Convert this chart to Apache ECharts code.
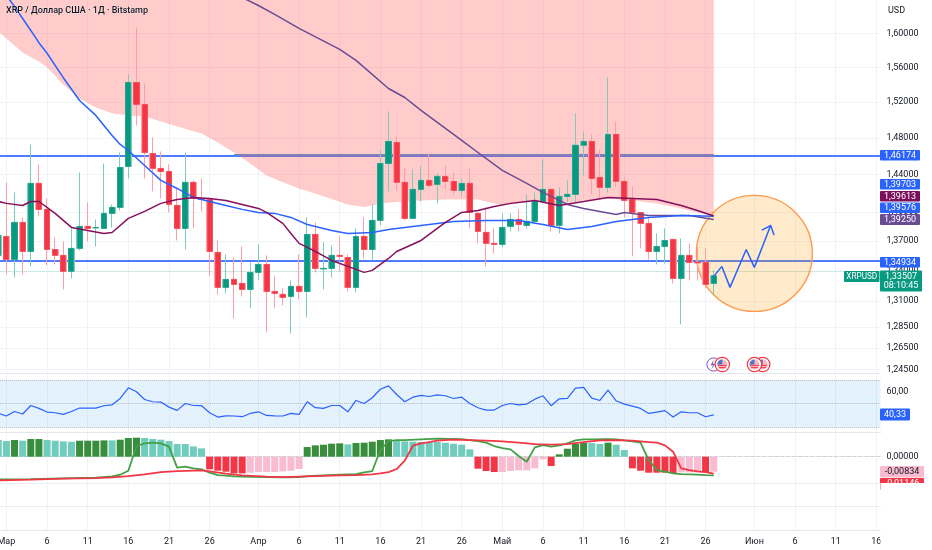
<!DOCTYPE html>
<html><head><meta charset="utf-8">
<style>html,body{margin:0;padding:0;background:#fff}#c{width:932px;height:550px}</style>
<script src="https://cdn.jsdelivr.net/npm/echarts@6/dist/echarts.min.js"></script>
</head><body><div id="c"></div>
<script>
const categories=['28','Мар','2','3','4','5','6','7','8','9','10','11','12','13','14','15','16','17','18','19','20','21','22','23','24','25','26','27','28','29','30','31','Апр','2','3','4','5','6','7','8','9','10','11','12','13','14','15','16','17','18','19','20','21','22','23','24','25','26','27','28','29','30','Май','2','3','4','5','6','7','8','9','10','11','12','13','14','15','16','17','18','19','20','21','22','23','24','25','26','27','28','29','30','31','Июн','2','3','4','5','6','7','8','9','10','11','12','13','14','15','16'];
const tickDays=['Мар','Апр','Май','Июн','6','11','16','21','26'];
const priceTicks=[1.6,1.56,1.52,1.48,1.44,1.40,1.37,1.34,1.31,1.285,1.265,1.245];

const opens=[1.3556,1.3749,1.3515,1.3894,1.3596,1.4305,1.4030,1.3616,1.3556,1.3395,1.3627,1.3853,1.3837,1.3832,1.3988,1.4051,1.4487,1.5425,1.5174,1.4628,1.4466,1.4433,1.4072,1.3832,1.4316,1.4145,1.4135,1.3586,1.3236,1.3315,1.3275,1.3216,1.3385,1.3465,1.3196,1.3167,1.3147,1.3246,1.3196,1.3770,1.3420,1.3425,1.3556,1.3535,1.3236,1.3749,1.3616,1.3915,1.4519,1.4749,1.4316,1.3936,1.4241,1.4337,1.4294,1.4380,1.4326,1.4230,1.4305,1.3988,1.3791,1.3678,1.3668,1.3853,1.3925,1.3863,1.3905,1.4114,1.4241,1.3863,1.4166,1.4188,1.4718,1.4760,1.4369,1.4262,1.4838,1.4326,1.4135,1.3998,1.3884,1.3596,1.3647,1.3718,1.3325,1.3556,1.3485,1.3485,1.3275];
const closes=[1.3760,1.3515,1.3894,1.3596,1.4305,1.4030,1.3616,1.3556,1.3395,1.3627,1.3853,1.3832,1.3842,1.3988,1.4051,1.4476,1.5425,1.5174,1.4639,1.4466,1.4433,1.4082,1.3832,1.4316,1.4145,1.4135,1.3596,1.3236,1.3315,1.3265,1.3216,1.3385,1.3465,1.3196,1.3177,1.3137,1.3246,1.3196,1.3770,1.3425,1.3425,1.3556,1.3546,1.3236,1.3749,1.3616,1.3915,1.4519,1.4760,1.4316,1.3936,1.4241,1.4337,1.4284,1.4380,1.4326,1.4230,1.4305,1.3998,1.3801,1.3678,1.3668,1.3842,1.3925,1.3873,1.3905,1.4114,1.4241,1.3863,1.4166,1.4188,1.4718,1.4760,1.4358,1.4262,1.4838,1.4326,1.4124,1.3998,1.3884,1.3596,1.3647,1.3708,1.3325,1.3556,1.3485,1.3480,1.3265,1.33507];
const lows=[1.3495,1.3365,1.3335,1.3365,1.3445,1.3957,1.3455,1.3465,1.3216,1.3325,1.3606,1.3698,1.3647,1.3832,1.3842,1.4019,1.4358,1.4938,1.4358,1.4219,1.4145,1.3998,1.3708,1.3616,1.3832,1.4009,1.3345,1.3167,1.3177,1.2932,1.3147,1.3030,1.3305,1.2797,1.3030,1.3059,1.2788,1.3118,1.2942,1.3385,1.3216,1.3335,1.3395,1.3196,1.3186,1.3525,1.3505,1.3863,1.4219,1.4230,1.3915,1.3936,1.4114,1.4262,1.4093,1.4241,1.4188,1.4177,1.3832,1.3678,1.3445,1.3576,1.3637,1.3801,1.3801,1.3832,1.3884,1.4093,1.3801,1.3780,1.4103,1.4103,1.4390,1.4188,1.4135,1.4209,1.4262,1.3946,1.3546,1.3627,1.3515,1.3465,1.3475,1.3275,1.2875,1.3305,1.3305,1.3226,1.3157];
const highs=[1.3915,1.4316,1.4209,1.3946,1.4727,1.4509,1.4145,1.3739,1.3698,1.3832,1.4423,1.4103,1.3925,1.4519,1.4082,1.4639,1.5518,1.6072,1.5413,1.4804,1.4650,1.4509,1.4252,1.4639,1.4337,1.4358,1.4145,1.3708,1.3566,1.3535,1.3647,1.3485,1.3668,1.3556,1.3345,1.3226,1.3305,1.3566,1.3946,1.3894,1.3688,1.3657,1.3749,1.3566,1.3832,1.3946,1.4082,1.4661,1.5095,1.4815,1.4466,1.4455,1.4487,1.4628,1.4412,1.4498,1.4423,1.4358,1.4466,1.4009,1.4051,1.3832,1.3988,1.3988,1.4030,1.4188,1.4209,1.4563,1.4241,1.4262,1.4337,1.5073,1.4871,1.4838,1.4672,1.5483,1.4983,1.4369,1.4273,1.3998,1.3946,1.3780,1.3832,1.3729,1.3729,1.3678,1.3637,1.3627,1.3405];

const maBlue=[[0,1.671],[1,1.646],[2,1.6326],[3,1.618],[4,1.6036],[5,1.589],[6,1.5765],[8,1.548],[10,1.5219],[12,1.505],[14,1.4826],[15,1.4727],[16,1.4661],[18,1.4498],[20,1.4337],[22,1.4251],[24,1.4156],[26,1.4113],[28,1.4071],[30,1.403],[32,1.3998],[34,1.3988],[36,1.3946],[38,1.3873],[41,1.3811],[43,1.378],[46,1.379],[48,1.3821],[52,1.3863],[56,1.3904],[60,1.3915],[64,1.3915],[67,1.3873],[70,1.3821],[73,1.3852],[76,1.3904],[80,1.3946],[84,1.3967],[88,1.39576]];
const maBurgundy=[[0,1.4113],[1,1.4093],[3,1.4071],[4,1.4113],[5,1.4113],[7,1.3988],[9,1.3842],[11,1.3811],[13,1.378],[14,1.379],[16,1.3936],[18,1.4009],[20,1.4093],[22,1.4134],[24,1.4156],[26,1.4145],[28,1.4124],[30,1.4082],[32,1.404],[33,1.3998],[35,1.3884],[36,1.378],[37,1.3678],[39,1.3596],[41,1.3505],[43,1.3445],[45,1.3385],[46,1.3405],[48,1.3525],[49,1.3596],[52,1.3708],[55,1.3894],[57,1.3998],[59,1.4019],[61,1.4061],[63,1.4093],[66,1.4124],[69,1.4071],[72,1.4113],[75,1.4156],[81,1.4134],[84,1.4071],[86,1.4019],[88,1.39613]];
const maPurple=[[30,1.6436],[32,1.6338],[34,1.6229],[37,1.606],[42,1.5811],[44,1.5681],[48,1.5356],[50,1.5253],[52,1.5106],[55,1.4904],[57,1.4771],[59,1.4639],[62,1.4444],[65,1.4305],[67,1.4209],[70,1.4082],[72,1.404],[76,1.3977],[77,1.3998],[80,1.3967],[85,1.3967],[88,1.3925]];
const cloudEdge=[[0,1.6024],[2,1.5858],[3,1.5775],[5,1.5669],[6,1.56],[8,1.5402],[10,1.5242],[12,1.514],[14,1.5073],[16,1.505],[18,1.5039],[20,1.4983],[22,1.4927],[25,1.4849],[27,1.4749],[29,1.4639],[31,1.452],[33,1.439],[35,1.4316],[37,1.4251],[40,1.4167],[43,1.4082],[45,1.4054],[48,1.4103],[52,1.4124],[55,1.4134],[59,1.4134],[62,1.4071],[66,1.4113],[69,1.4082],[72,1.4124],[75,1.4145],[78,1.4124],[81,1.4093],[84,1.404],[86,1.3998],[88,1.3958]];
const levelHigh=1.46174, levelLow=1.34934, lastPrice=1.33507;
const cloudSpan=[29,88];
const forecastPath=[[88,1.3345],[89,1.3445],[90,1.3236],[92,1.3616],[93,1.3435],[95,1.3862]];
const circleCenter=[93,1.3576], circleTopPrice=1.4177;

const rsi=[41.6,39.4,43.3,41.1,48.4,45.9,42.8,42.2,40.8,43.3,46.2,46.2,46.2,48.2,49,54.4,63.5,60.1,53.5,51.6,51.3,47,44.2,50.1,48.4,48.2,42.2,38.5,39.6,39.4,38.8,41.6,43,39.9,39.6,39.4,41.6,40.8,51.6,46.5,45.9,48.4,48.4,43,52.7,50.1,55,62.3,65.2,57.8,51.6,55.5,57,56.1,57.5,56.7,54.4,55.5,50.1,46.5,44.5,44.5,48.4,50.1,49,49.6,53.8,56.7,48.2,54.1,54.4,63.2,63.8,54.7,52.7,61.5,52.4,49.6,47.9,45.9,41.6,42.8,44,38.5,43,42.2,42.2,38.8,40.33];

const hist=[.00926,.00870,.00926,.00889,.00981,.00981,.00926,.00889,.00852,.00833,.00889,.00889,.00889,.00907,.00907,.00944,.01037,.01056,.01037,.00981,.00944,.00870,.00704,.00704,.00574,.00463,-.00704,-.00778,-.00833,-.00926,-.00926,-.00889,-.00852,-.00852,-.00852,-.00815,-.00778,-.00685,.00537,.00630,.00667,.00722,.00741,.00685,.00759,.00778,.00833,.00926,.00963,.00889,.00852,.00833,.00815,.00796,.00815,.00778,.00722,.00667,.00407,-.00667,-.00796,-.00852,-.00852,-.00796,-.00759,-.00759,-.00648,-.00148,-.00519,.00130,.00444,.00704,.00759,.00759,.00704,.00778,.00667,.00370,-.00648,-.00778,-.00889,-.00889,-.00889,-.00907,-.00870,-.00870,-.00870,-.00870,-.00834];
const histKinds=('ppdpddpppp'+'ddddpdddpp'+'pppppprrrr'+'rkkkkkkkdd'+'dddpdddddp'+'pppppppppr'+'rrkkkkkkrd'+'dddppdpprr'+'rrrrkkkrk').split('');
const macdLine=[[0,-.01259],[4,-.01241],[8,-.01204],[12,-.01167],[14,-.01093],[15,-.01],[16,-.00778],[17,.00593],[18,.00741],[19,.00778],[20,.00741],[21,.00556],[22,-.00611],[23,-.00556],[24,-.00648],[25,-.00704],[26,-.00889],[27,-.01019],[28,-.01056],[29,-.01093],[30,-.01111],[33,-.0113],[35,-.01148],[37,-.0113],[38,-.01074],[42,-.01],[44,-.00963],[45,-.0087],[46,-.00796],[47,.0037],[48,.0087],[49,.00926],[50,.00926],[52,.00963],[54,.01],[57,.00981],[58,.00926],[59,.0087],[60,.00778],[61,.00593],[62,.00481],[63,.00407],[64,.00037],[65,-.00278],[66,.00519],[67,.00648],[68,.00556],[69,.0063],[70,.00741],[71,.00907],[72,.00963],[73,.00963],[75,.00981],[76,.00963],[77,.00907],[78,.00852],[79,.00778],[80,-.00185],[81,-.00741],[82,-.00833],[83,-.00926],[84,-.00963],[85,-.00981],[86,-.01],[87,-.01019],[88,-.01037]];
const signalLine=[[0,-.01315],[4,-.01278],[8,-.01222],[12,-.01185],[14,-.01148],[16,-.01074],[18,-.00981],[20,-.00852],[22,-.00796],[25,-.00759],[26,-.00815],[28,-.00944],[30,-.01037],[33,-.01111],[35,-.0113],[38,-.01093],[42,-.01037],[44,-.01019],[46,-.00981],[47,-.00926],[48,-.00852],[49,-.00685],[50,-.00222],[51,.00611],[52,.00741],[53,.00815],[54,.00889],[56,.00944],[58,.00926],[60,.00889],[62,.00852],[64,.00778],[66,.00704],[68,.00667],[70,.00704],[72,.00815],[74,.00907],[76,.00926],[78,.00889],[80,.00815],[81,.00778],[82,.0063],[83,.00278],[84,-.00648],[85,-.00741],[86,-.00815],[87,-.00852],[88,-.00944]];

const FONT='Roboto, sans-serif', INK='#131722', GRID='#F0F3FA';
const histColor={d:'#388E3C',p:'#70CCBD',r:'#F23645',k:'#F8BBD0'};
const fmt=d=>v=>Number(v).toFixed(d).replace('.',',');
const showTick=(i,v)=>tickDays.includes(v);
const pane=(idx,top,height)=>({left:-5.8,width:886.2,top,height,show:false,outerBoundsMode:'none'});
const xAx=(idx,labels)=>({type:'category',gridIndex:idx,data:categories,boundaryGap:true,
  axisLine:{show:true,lineStyle:{color:'#E4E7EE',width:1}},axisTick:{show:false,alignWithLabel:true},
  splitLine:{show:true,alignWithLabel:true,interval:showTick,lineStyle:{color:GRID,width:1}},
  axisLabel:labels?{show:true,interval:showTick,color:INK,fontFamily:FONT,fontSize:9,margin:7,hideOverlap:false,showMinLabel:true,showMaxLabel:true}:{show:false}});
const bodyData=opens.map((o,i)=>[o,closes[i],Math.min(o,closes[i]),Math.max(o,closes[i])]);
const wickData=opens.map((o,i)=>[o,closes[i],lows[i],highs[i]]);
const maSeries=(data,color,name)=>({type:'line',name,xAxisIndex:0,yAxisIndex:0,data,showSymbol:false,symbol:'none',z:6,lineStyle:{color,width:1.5},silent:true});

function tag(x,y,w,h,bg,text,color,size){
  return [{type:'rect',z:100,shape:{x,y,width:w,height:h,r:1},style:{fill:bg}},
    {type:'text',z:101,x:x+w/2,y:y+h/2,style:{text,fill:color||'#fff',font:(size||9)+'px '+FONT,align:'center',verticalAlign:'middle'}}];
}
function flag(cx,cy,z){
  return [{type:'circle',z,shape:{cx,cy,r:7.2},style:{fill:'#fff',stroke:'#F23645',lineWidth:1.2}},
   {type:'circle',z:z+1,shape:{cx,cy,r:5},style:{fill:'#F7B7BC'}},
   {type:'sector',z:z+2,shape:{cx,cy,r:5,startAngle:Math.PI,endAngle:Math.PI*1.5},style:{fill:'#4F74C9'}},
   {type:'rect',z:z+2,shape:{x:cx-4.4,y:cy+.4,width:8.8,height:1},style:{fill:'#F23645'}},
   {type:'rect',z:z+2,shape:{x:cx-3.4,y:cy+2.6,width:6.8,height:1},style:{fill:'#F23645'}}];
}
const graphicEls=[
  {type:'text',z:50,x:6,y:11,style:{text:'XRP / Доллар США · 1Д · Bitstamp',fill:INK,font:'500 9px '+FONT,verticalAlign:'middle',stroke:'rgba(255,255,255,.35)',lineWidth:1}},
  {type:'text',z:50,x:888,y:11,style:{text:'USD',fill:INK,font:'9px '+FONT,verticalAlign:'middle'}},
  {type:'circle',z:19,shape:{cx:713.5,cy:364.5,r:6.6},style:{fill:'#fff',stroke:'#7E57C2',lineWidth:1}},
  {type:'polygon',z:19,shape:{points:[[713.5,360],[710.5,365.5],[713,365],[711.5,369],[715.5,363.5],[713,364]]},style:{fill:'#7E57C2'}},
  ...flag(722.3,364.5,20),...flag(762.7,364.5,24),...flag(754.5,364.5,28),
  ...tag(880,150,40,10.5,'#2962FF','1,46174'),
  ...tag(880,179,40,10.5,'#2962FF','1,39703'),
  ...tag(880,191,40,10.5,'#7B0F5C','1,39613'),
  ...tag(880,202.5,40,10.5,'#2962FF','1,39576'),
  ...tag(880,214,40,11,'#6A4C93','1,39250'),
  ...tag(880,257,40,10.5,'#2962FF','1,34934'),
  ...tag(844,271,35.5,11,'#089981','XRPUSD','#fff',8.2),
  ...tag(880,270.5,42,21,'#089981','1,33507\n08:10:45'),
  ...tag(880,408.5,30,12,'#2962FF','40,33'),
  ...tag(880,466,44,11.5,'#F8BBD0','-0,00834',INK),
  ...tag(880,478,44,12,'#F23645','-0,01146'),
  {type:'rect',z:110,shape:{x:880.4,y:483,width:52,height:20},style:{fill:'#fff'}},
  {type:'rect',z:110,shape:{x:880.4,y:531,width:52,height:19},style:{fill:'#fff'}}
];

const option={animation:false,backgroundColor:'#fff',
 grid:[pane(0,0,373),pane(1,373,59),pane(2,432,51),pane(3,483,47)],
 xAxis:[xAx(0),xAx(1),xAx(2),xAx(3,true)],
 yAxis:[
  {type:'log',gridIndex:0,position:'right',min:1.2416,max:1.6405,axisLine:{show:false},axisTick:{show:false,customValues:priceTicks},
   splitLine:{show:true,lineStyle:{color:GRID}},axisLabel:{show:true,customValues:priceTicks,color:INK,fontFamily:FONT,fontSize:9,margin:6,formatter:fmt(5)}},
  {type:'value',gridIndex:1,position:'right',min:25.74,max:76.17,axisLine:{show:false},axisTick:{show:false},splitLine:{show:false},
   axisLabel:{show:true,customValues:[60],color:INK,fontFamily:FONT,fontSize:9,margin:6,formatter:fmt(2)}},
  {type:'value',gridIndex:2,position:'right',min:-.01461,max:.01372,axisLine:{show:false},axisTick:{show:false},splitLine:{show:false},
   axisLabel:{show:true,customValues:[0],color:INK,fontFamily:FONT,fontSize:9,margin:6,formatter:fmt(5)}},
  {type:'value',gridIndex:3,position:'right',min:0,max:2,interval:1,axisLine:{show:false},axisTick:{show:false},splitLine:{show:true,lineStyle:{color:'#E9ECF2'}},axisLabel:{show:false}}
 ],
 graphic:{elements:graphicEls},
 series:[
  {type:'line',name:'levels',xAxisIndex:0,yAxisIndex:0,data:[],z:1,markLine:{silent:true,z:1,symbol:'none',label:{show:false},
    data:[{yAxis:levelHigh,lineStyle:{color:'#4F7CFF',width:2,type:'solid'}},{yAxis:levelLow,lineStyle:{color:'#4F7CFF',width:2,type:'solid'}},{yAxis:lastPrice,lineStyle:{color:'#A5DDD2',width:1,type:'dotted'}},
      [{xAxis:cloudSpan[0],yAxis:levelHigh,lineStyle:{color:'#4892E9',width:2,type:'solid'}},{xAxis:cloudSpan[1],yAxis:levelHigh}]]}},
  {type:'line',name:'cloud',xAxisIndex:0,yAxisIndex:0,data:cloudEdge,symbol:'none',z:2,lineStyle:{width:0,opacity:0},areaStyle:{origin:'end',color:'rgba(255,82,82,.3)',opacity:1},silent:true},
  {type:'custom',name:'circle',xAxisIndex:0,yAxisIndex:0,z:3,data:[circleCenter],clip:false,silent:true,
   renderItem:(p,api)=>{const c=api.coord(circleCenter),t=api.coord([circleCenter[0],circleTopPrice]);
     return {type:'circle',shape:{cx:c[0],cy:c[1],r:c[1]-t[1]},style:{fill:'rgba(255,152,0,.2)',stroke:'#FF9A4D',lineWidth:1.4}};}},
  {type:'candlestick',name:'wicks',xAxisIndex:0,yAxisIndex:0,data:wickData,barWidth:6.4,z:4,silent:true,
   itemStyle:{color:'#7ECBBC',color0:'#FF9EA6',borderColor:'#7ECBBC',borderColor0:'#FF9EA6',borderWidth:1}},
  {type:'candlestick',name:'bodies',xAxisIndex:0,yAxisIndex:0,data:bodyData,barWidth:5.6,z:5,silent:true,
   itemStyle:{color:'#089981',color0:'#F23645',borderColor:'#089981',borderColor0:'#F23645',borderWidth:.5}},
  maSeries(maPurple,'#6A4C93','maPurple'),
  maSeries(maBlue,'#2962FF','maBlue'),
  maSeries(maBurgundy,'#86105E','maBurgundy'),
  {type:'line',name:'forecast',xAxisIndex:0,yAxisIndex:0,data:forecastPath,symbol:'none',z:7,lineStyle:{color:'#2962FF',width:1.5},silent:true},
  {type:'custom',name:'arrowHead',xAxisIndex:0,yAxisIndex:0,z:7,clip:false,silent:true,data:[forecastPath[forecastPath.length-1]],
   renderItem:(p,api)=>{const n=forecastPath.length,t=api.coord(forecastPath[n-1]),b=api.coord(forecastPath[n-2]);
     const a=Math.atan2(b[1]-t[1],b[0]-t[0]),L=10,s=.72;
     return {type:'polyline',shape:{points:[[t[0]+L*Math.cos(a-s),t[1]+L*Math.sin(a-s)],t,[t[0]+L*Math.cos(a+s),t[1]+L*Math.sin(a+s)]]},style:{fill:'none',stroke:'#2962FF',lineWidth:1.5}};}},
  {type:'line',name:'rsi',xAxisIndex:1,yAxisIndex:1,data:rsi,symbol:'none',z:5,lineStyle:{color:'#2962FF',width:1.2},silent:true,
   markArea:{silent:true,z:1,itemStyle:{color:'rgba(33,150,243,.12)'},data:[[{yAxis:30},{yAxis:70}]]},
   markLine:{silent:true,z:2,symbol:'none',label:{show:false},
    data:[{yAxis:70,lineStyle:{color:'#B2B5BE',type:'dotted',width:1}},{yAxis:50,lineStyle:{color:'#B2B5BE',type:'dotted',width:1}},{yAxis:30,lineStyle:{color:'#B2B5BE',type:'dotted',width:1}},{yAxis:60,lineStyle:{color:'#E8ECF4',type:'solid',width:1}},{yAxis:40,lineStyle:{color:'#E8ECF4',type:'solid',width:1}}]}},
  {type:'bar',name:'hist',xAxisIndex:2,yAxisIndex:2,barWidth:7,z:3,silent:true,data:hist.map((v,i)=>({value:v,itemStyle:{color:histColor[histKinds[i]]}})),
   markLine:{silent:true,z:2,symbol:'none',label:{show:false},data:[{yAxis:0,lineStyle:{color:'#D0D3DA',type:'dashed',width:1}}]}},
  {type:'line',name:'macd',xAxisIndex:2,yAxisIndex:2,data:macdLine,symbol:'none',z:5,lineStyle:{color:'#43A047',width:1.8},silent:true},
  {type:'line',name:'signal',xAxisIndex:2,yAxisIndex:2,data:signalLine,symbol:'none',z:6,lineStyle:{color:'#F23645',width:1.8},silent:true},
  {type:'line',name:'empty',xAxisIndex:3,yAxisIndex:3,data:[],silent:true}
 ]};
const chart=echarts.init(document.getElementById('c'),null,{renderer:'canvas'});
chart.setOption(option);
</script></body></html>
